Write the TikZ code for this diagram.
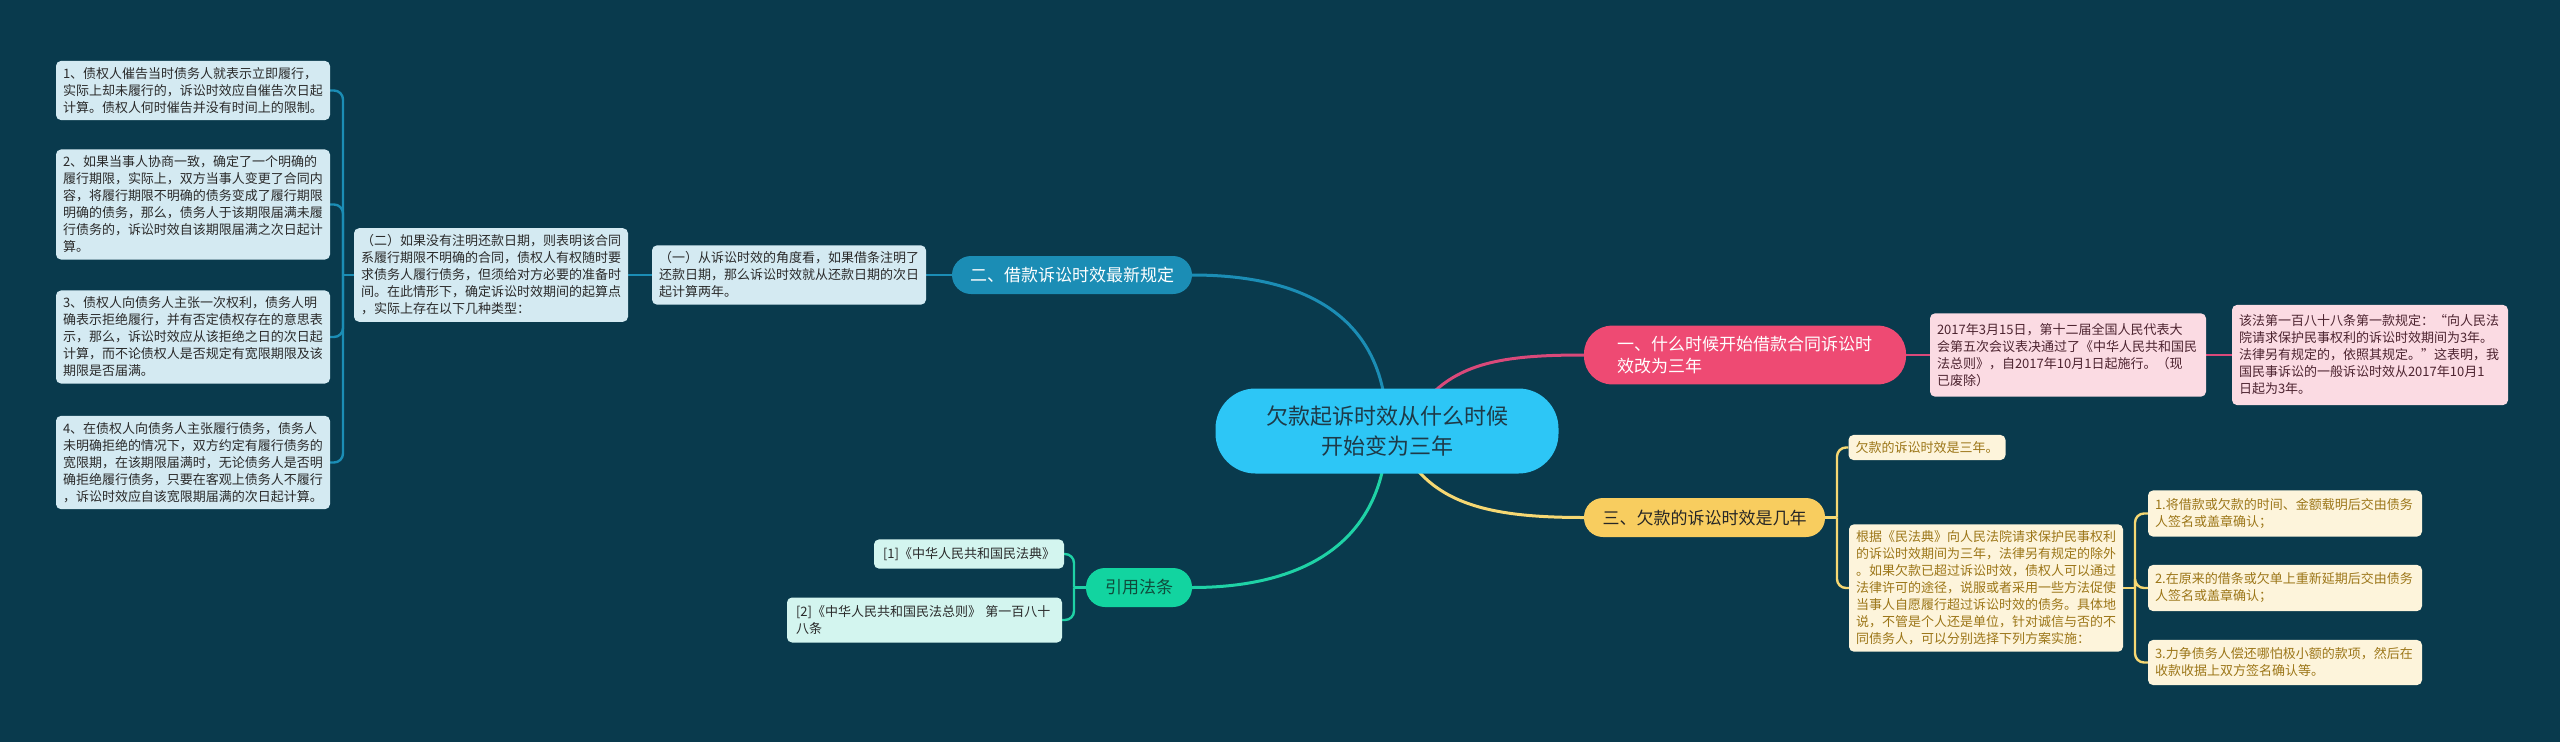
\documentclass[tikz,border=0pt]{standalone}
\usepackage{fontspec}
\setmainfont{Noto Sans CJK SC}
\definecolor{bgc}{HTML}{093A4D}
\definecolor{blueb}{HTML}{1B8DB5}
\definecolor{bluel}{HTML}{D4EAF2}
\definecolor{pinkb}{HTML}{EE4A73}
\definecolor{pinkline}{HTML}{D9497A}
\definecolor{pinkl}{HTML}{FBDBE3}
\definecolor{pinkt}{HTML}{4D2430}
\definecolor{yelb}{HTML}{F8CD5F}
\definecolor{yelline}{HTML}{F6D873}
\definecolor{yell}{HTML}{FDF4DB}
\definecolor{yelt}{HTML}{9C7618}
\definecolor{greenb}{HTML}{12D4A0}
\definecolor{greenline}{HTML}{1FD2A6}
\definecolor{greenl}{HTML}{D3F5EF}
\definecolor{greent}{HTML}{0F4B3B}
\definecolor{rootc}{HTML}{2DC6F6}
\definecolor{roott}{HTML}{1E3A48}
\definecolor{darkt}{HTML}{2A2A2A}
\pgfdeclarelayer{bglayer}
\pgfsetlayers{bglayer,main}
\begin{document}
\begin{tikzpicture}[x=1pt,y=-1pt,
  leafbase/.style={rounded corners=5pt, inner xsep=7pt, inner ysep=6.5pt, align=left,
    font=\fontsize{13}{17}\selectfont, anchor=center},
  blueleaf/.style={leafbase, fill=bluel, text=darkt, text width=260pt},
  pinkleaf/.style={leafbase, fill=pinkl, text=pinkt, text width=262pt, inner ysep=10pt},
  yelleaf/.style={leafbase, fill=yell, text=yelt, text width=260pt},
  greenleaf/.style={leafbase, fill=greenl, text=darkt, inner xsep=9pt, inner ysep=8pt},
  branchfont/.style={font=\fontsize{17}{22}\selectfont},
  mainline/.style={line width=3pt},
  subline/.style={line width=2.4pt},
]
\useasboundingbox (0,0) rectangle (2560,742);

% root
\node[fill=rootc, text=roott, rounded corners=40pt, minimum width=343pt, minimum height=85pt,
  inner sep=0pt, align=center, font=\fontsize{22}{30}\selectfont] (root) at (1387,431)
  {欠款起诉时效从什么时候\\开始变为三年};

% main branches
\node[fill=blueb, text=white, rounded corners=19pt, minimum width=240pt, minimum height=38pt,
  inner sep=0pt, branchfont] (b2) at (1072,275) {二、借款诉讼时效最新规定};
\node[fill=pinkb, text=white, rounded corners=28pt, text width=256pt, inner xsep=33pt,
  inner ysep=10.5pt, align=left, branchfont] (b1) at (1745,355)
  {一、什么时候开始借款合同诉讼时\\效改为三年};
\node[fill=yelb, text=black!85, rounded corners=19pt, minimum width=241pt, minimum height=39pt,
  inner sep=0pt, branchfont] (b3) at (1704.5,517.5) {三、欠款的诉讼时效是几年};
\node[fill=greenb, text=greent, rounded corners=19pt, minimum width=106pt, minimum height=39pt,
  inner sep=0pt, branchfont] (bref) at (1139,587.5) {引用法条};

% blue subtree
\node[blueleaf] (s1) at (789,275)
  {（一）从诉讼时效的角度看，如果借条注明了\\还款日期，那么诉讼时效就从还款日期的次日\\起计算两年。};
\node[blueleaf] (s2) at (491,275)
  {（二）如果没有注明还款日期，则表明该合同\\系履行期限不明确的合同，债权人有权随时要\\求债务人履行债务，但须给对方必要的准备时\\间。在此情形下，确定诉讼时效期间的起算点\\，实际上存在以下几种类型：};
\node[blueleaf] (l1) at (193,90.5)
  {1、债权人催告当时债务人就表示立即履行，\\实际上却未履行的，诉讼时效应自催告次日起\\计算。债权人何时催告并没有时间上的限制。};
\node[blueleaf] (l2) at (193,204.5)
  {2、如果当事人协商一致，确定了一个明确的\\履行期限，实际上，双方当事人变更了合同内\\容，将履行期限不明确的债务变成了履行期限\\明确的债务，那么，债务人于该期限届满未履\\行债务的，诉讼时效自该期限届满之次日起计\\算。};
\node[blueleaf] (l3) at (193,337)
  {3、债权人向债务人主张一次权利，债务人明\\确表示拒绝履行，并有否定债权存在的意思表\\示，那么，诉讼时效应从该拒绝之日的次日起\\计算，而不论债权人是否规定有宽限期限及该\\期限是否届满。};
\node[blueleaf] (l4) at (193,462.5)
  {4、在债权人向债务人主张履行债务，债务人\\未明确拒绝的情况下，双方约定有履行债务的\\宽限期，在该期限届满时，无论债务人是否明\\确拒绝履行债务，只要在客观上债务人不履行\\，诉讼时效应自该宽限期届满的次日起计算。};

% pink subtree
\node[pinkleaf] (p1) at (2068,355)
  {2017年3月15日，第十二届全国人民代表大\\会第五次会议表决通过了《中华人民共和国民\\法总则》，自2017年10月1日起施行。（现\\已废除）};
\node[pinkleaf] (p2) at (2370,355)
  {该法第一百八十八条第一款规定：“向人民法\\院请求保护民事权利的诉讼时效期间为3年。\\法律另有规定的，依照其规定。”这表明，我\\国民事诉讼的一般诉讼时效从2017年10月1\\日起为3年。};

% yellow subtree
\node[leafbase, fill=yell, text=yelt] (y1) at (1927,447.5) {欠款的诉讼时效是三年。};
\node[yelleaf] (y2) at (1986,588)
  {根据《民法典》向人民法院请求保护民事权利\\的诉讼时效期间为三年，法律另有规定的除外\\。如果欠款已超过诉讼时效，债权人可以通过\\法律许可的途径，说服或者采用一些方法促使\\当事人自愿履行超过诉讼时效的债务。具体地\\说，不管是个人还是单位，针对诚信与否的不\\同债务人，可以分别选择下列方案实施：};
\node[yelleaf, inner ysep=8pt] (y31) at (2285,513.5)
  {1.将借款或欠款的时间、金额载明后交由债务\\人签名或盖章确认；};
\node[yelleaf, inner ysep=8pt] (y32) at (2285,588)
  {2.在原来的借条或欠单上重新延期后交由债务\\人签名或盖章确认；};
\node[yelleaf, inner ysep=8pt] (y33) at (2285,662.5)
  {3.力争债务人偿还哪怕极小额的款项，然后在\\收款收据上双方签名确认等。};

% green subtree
\node[greenleaf, minimum width=186pt] (g1) at (969,554) {[1]《中华人民共和国民法典》};
\node[greenleaf, text width=257pt] (g2) at (924.5,620)
  {[2]《中华人民共和国民法总则》 第一百八十\\八条};

% junctions
\coordinate (jl) at (343,275);
\coordinate (jy) at (1837,517.5);
\coordinate (jy3) at (2135,588);
\coordinate (jg) at (1074,587.5);

\begin{pgfonlayer}{bglayer}
\fill[bgc] (0,0) rectangle (2560,742);
% root connectors
\draw[mainline, blueb] (b2.east) .. controls (1310,275) and (1387,320) .. (root.center);
\draw[mainline, pinkline] ([xshift=18pt]root.center) .. controls (1440,365) and (1490,355) .. (b1.west);
\draw[mainline, yelline] ([xshift=10pt,yshift=-5pt]root.center) .. controls (1425,505) and (1490,517.5) .. (b3.west);
\draw[mainline, greenline] (root.center) .. controls (1385,545) and (1300,587.5) .. (bref.east);
% blue
\draw[subline, blueb] (b2.west) -- (s1.east);
\draw[subline, blueb] (s1.west) -- (s2.east);
\draw[subline, blueb] (s2.west) -- (jl);
\foreach \n in {l1,l2,l3,l4} \draw[subline, blueb, rounded corners=9pt] (jl) |- (\n.east);
% pink
\draw[subline, pinkline] (b1.east) -- (p1.west);
\draw[subline, pinkline] (p1.east) -- (p2.west);
% yellow
\draw[subline, yelline] (b3.east) -- (jy);
\foreach \n in {y1,y2} \draw[subline, yelline, rounded corners=9pt] (jy) |- (\n.west);
\draw[subline, yelline] (y2.east) -- (jy3);
\foreach \n in {y31,y32,y33} \draw[subline, yelline, rounded corners=9pt] (jy3) |- (\n.west);
% green
\draw[subline, greenline] (bref.west) -- (jg);
\foreach \n in {g1,g2} \draw[subline, greenline, rounded corners=9pt] (jg) |- (\n.east);
\end{pgfonlayer}
\end{tikzpicture}
\end{document}
